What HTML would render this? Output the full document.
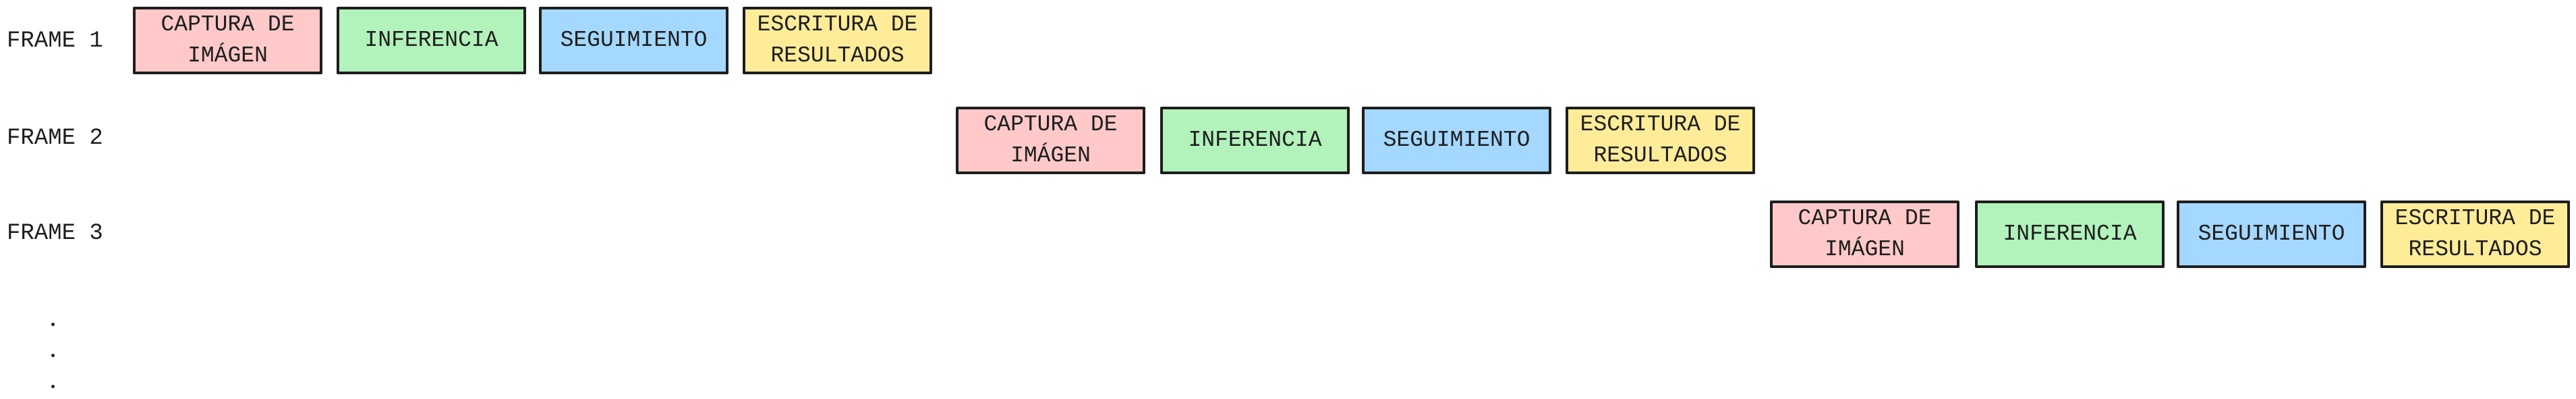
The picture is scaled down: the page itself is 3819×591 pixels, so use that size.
<!DOCTYPE html>
<html><head><meta charset="utf-8"><style>
body{margin:0;width:3819px;height:591px;background:#fff;position:relative;overflow:hidden;font-family:"Liberation Mono",monospace;color:#1e1e1e}
.b{position:absolute;width:281px;height:100px;box-sizing:border-box;border:4px solid #1e1e1e;border-radius:2px;display:flex;align-items:center;justify-content:center;text-align:center;font-size:33px;line-height:46px}
.l{position:absolute;left:10px;font-size:34px;line-height:40px}
.p{background:#ffc9c9}.g{background:#b2f2bb}.u{background:#a5d8ff}.y{background:#ffec99}
.d{position:absolute;left:76px;width:5px;height:5px;border-radius:50%;background:#1e1e1e}
</style></head><body>
<div class="l" style="top:41px">FRAME 1</div>
<div class="l" style="top:185px">FRAME 2</div>
<div class="l" style="top:326px">FRAME 3</div>
<div class="b p" style="left:197px;top:10px">CAPTURA DE<br>IMÁGEN</div>
<div class="b g" style="left:499px;top:10px">INFERENCIA</div>
<div class="b u" style="left:799px;top:10px">SEGUIMIENTO</div>
<div class="b y" style="left:1101px;top:10px">ESCRITURA DE<br>RESULTADOS</div>
<div class="b p" style="left:1417px;top:158px">CAPTURA DE<br>IMÁGEN</div>
<div class="b g" style="left:1720px;top:158px">INFERENCIA</div>
<div class="b u" style="left:2019px;top:158px">SEGUIMIENTO</div>
<div class="b y" style="left:2321px;top:158px">ESCRITURA DE<br>RESULTADOS</div>
<div class="b p" style="left:2624px;top:297px">CAPTURA DE<br>IMÁGEN</div>
<div class="b g" style="left:2928px;top:297px">INFERENCIA</div>
<div class="b u" style="left:3227px;top:297px">SEGUIMIENTO</div>
<div class="b y" style="left:3529px;top:297px">ESCRITURA DE<br>RESULTADOS</div>
<div class="d" style="top:478px"></div>
<div class="d" style="top:524px"></div>
<div class="d" style="top:570px"></div>
</body></html>
